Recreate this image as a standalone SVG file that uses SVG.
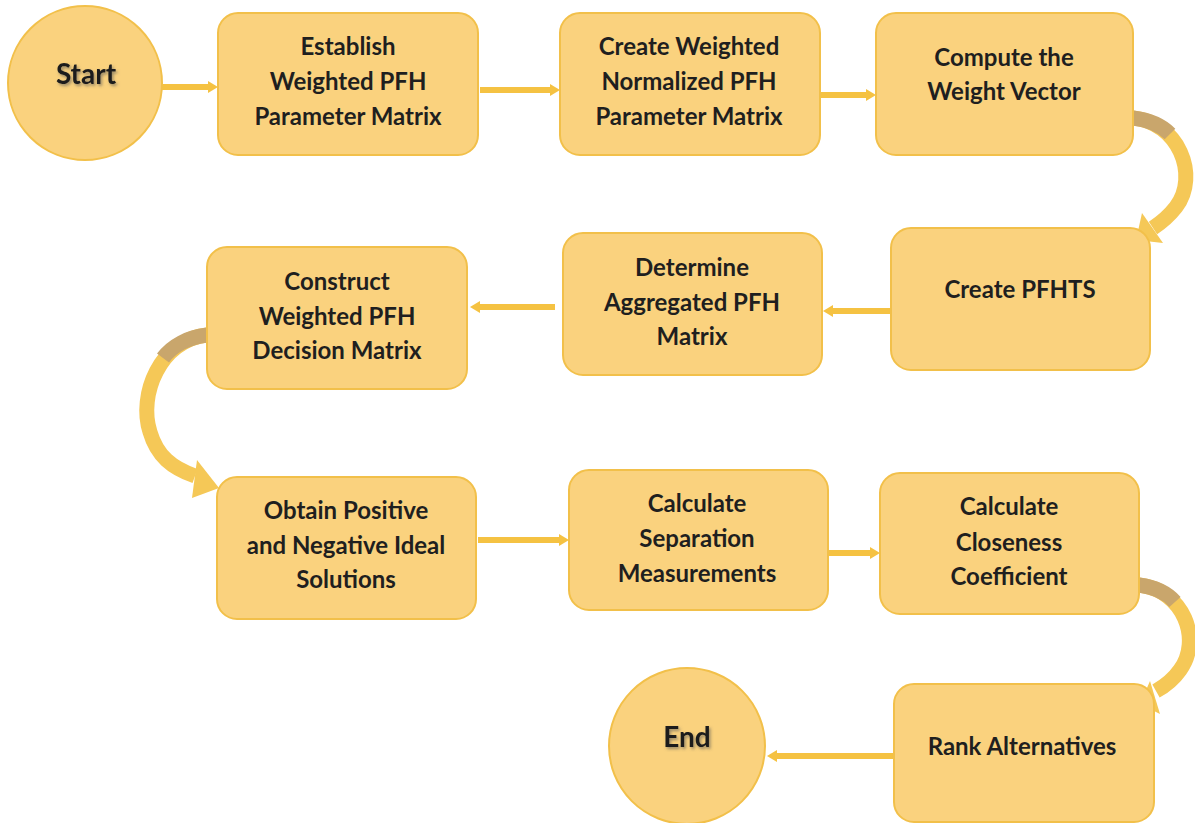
<svg xmlns="http://www.w3.org/2000/svg" width="1195" height="823" viewBox="0 0 1195 823">
<defs>
<style>
.box{fill:#FAD27E;stroke:#F2C04A;stroke-width:2}
.t{font-family:Lato,"Liberation Sans",sans-serif;font-weight:bold;font-size:24px;fill:#1f1f1f;text-anchor:middle}
.big{font-family:Lato,"Liberation Sans",sans-serif;font-weight:bold;font-size:28px;fill:#1a1a1a;text-anchor:middle}
.ln{stroke:#F5C242;stroke-width:6;fill:none}
.ah{fill:#F5C242}
.cv{stroke:#F5C857;stroke-width:15;fill:none}
.cvs{stroke:#C9A66C;stroke-width:15;fill:none}
.ch{fill:#F5C857}
</style>
<filter id="sh" x="-20%" y="-20%" width="140%" height="140%">
<feDropShadow dx="1.5" dy="2" stdDeviation="1.5" flood-color="#555" flood-opacity="0.6"/>
</filter>
</defs>
<rect width="1195" height="823" fill="#fff"/>

<g id="connectors">
<line class="ln" x1="162" y1="87" x2="210" y2="87"/>
<polygon class="ah" points="218,87 208,81 208,93"/>
<line class="ln" x1="480" y1="90" x2="552" y2="90"/>
<polygon class="ah" points="560,90 550,84 550,96"/>
<line class="ln" x1="820" y1="95" x2="868" y2="95"/>
<polygon class="ah" points="876,95 866,89 866,101"/>
<path class="cv" d="M1133,118 C1178,122 1200,175 1176,207 C1169,216 1162,222 1153,228"/>
<path class="cvs" d="M1133,118 C1150,120 1162,126 1170,134"/>
<polygon class="ch" points="1136,240 1142,213 1163,243"/>
<line class="ln" x1="891" y1="311" x2="832" y2="311"/>
<polygon class="ah" points="823,311 833,305 833,317"/>
<line class="ln" x1="555" y1="307" x2="479" y2="307"/>
<polygon class="ah" points="470,307 480,301 480,313"/>
<path class="cv" d="M207,335 C160,340 138,395 150,432 C157,456 172,468 195,476"/>
<path class="cvs" d="M207,335 C188,337 172,346 163,358"/>
<polygon class="ch" points="219,488 197,460 192,498"/>
<line class="ln" x1="478" y1="540" x2="561" y2="540"/>
<polygon class="ah" points="569,540 559,534 559,546"/>
<line class="ln" x1="828" y1="553" x2="872" y2="553"/>
<polygon class="ah" points="880,553 870,547 870,559"/>
<path class="cv" d="M1139,585 C1184,590 1202,640 1180,670 C1173,680 1165,686 1156,691"/>
<path class="cvs" d="M1139,585 C1155,587 1167,593 1175,602"/>
<polygon class="ch" points="1140,704 1150,681 1160,714"/>
<line class="ln" x1="894" y1="756" x2="776" y2="756"/>
<polygon class="ah" points="767,756 777,750 777,762"/>
</g>

<g id="start">
<circle cx="85" cy="83" r="77" class="box"/>
<text x="86" y="84" class="big" filter="url(#sh)">Start</text>
</g>
<g id="n1">
<rect x="218" y="13" width="260" height="142" rx="20" class="box"/>
<text class="t" x="348" y="55">Establish</text>
<text class="t" x="348" y="90">Weighted PFH</text>
<text class="t" x="348" y="125">Parameter Matrix</text>
</g>
<g id="n2">
<rect x="560" y="13" width="260" height="142" rx="20" class="box"/>
<text class="t" x="689" y="55">Create Weighted</text>
<text class="t" x="689" y="90">Normalized PFH</text>
<text class="t" x="689" y="125">Parameter Matrix</text>
</g>
<g id="n3">
<rect x="876" y="13" width="257" height="142" rx="20" class="box"/>
<text class="t" x="1004" y="66">Compute the</text>
<text class="t" x="1004" y="100">Weight Vector</text>
</g>
<g id="n4">
<rect x="891" y="228" width="259" height="142" rx="20" class="box"/>
<text class="t" x="1020" y="298">Create PFHTS</text>
</g>
<g id="n5">
<rect x="563" y="233" width="259" height="142" rx="20" class="box"/>
<text class="t" x="692" y="276">Determine</text>
<text class="t" x="692" y="311">Aggregated PFH</text>
<text class="t" x="692" y="345">Matrix</text>
</g>
<g id="n6">
<rect x="207" y="247" width="260" height="142" rx="20" class="box"/>
<text class="t" x="337" y="290">Construct</text>
<text class="t" x="337" y="325">Weighted PFH</text>
<text class="t" x="337" y="359">Decision Matrix</text>
</g>
<g id="n7">
<rect x="217" y="477" width="259" height="142" rx="20" class="box"/>
<text class="t" x="346" y="519">Obtain Positive</text>
<text class="t" x="346" y="554">and Negative Ideal</text>
<text class="t" x="346" y="588">Solutions</text>
</g>
<g id="n8">
<rect x="569" y="470" width="259" height="140" rx="20" class="box"/>
<text class="t" x="697" y="512">Calculate</text>
<text class="t" x="697" y="547">Separation</text>
<text class="t" x="697" y="582">Measurements</text>
</g>
<g id="n9">
<rect x="880" y="473" width="259" height="141" rx="20" class="box"/>
<text class="t" x="1009" y="515">Calculate</text>
<text class="t" x="1009" y="551">Closeness</text>
<text class="t" x="1009" y="585">Coefficient</text>
</g>
<g id="n10">
<rect x="894" y="684" width="260" height="138" rx="20" class="box"/>
<text class="t" x="1022" y="755">Rank Alternatives</text>
</g>
<g id="end">
<circle cx="687" cy="746" r="78" class="box"/>
<text x="687" y="747" class="big" filter="url(#sh)">End</text>
</g>
</svg>
